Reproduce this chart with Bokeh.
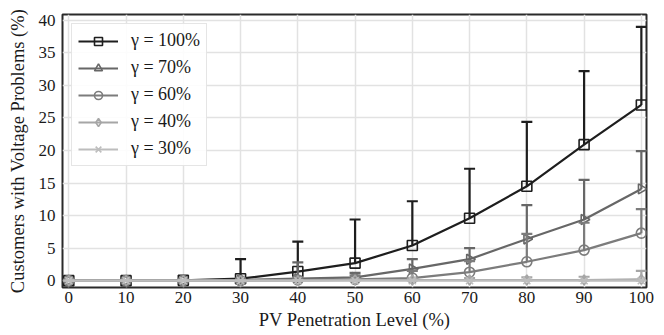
import math
from bokeh.plotting import figure
from bokeh.models import FixedTicker, Legend
from bokeh.embed import file_html
from bokeh.resources import INLINE

pv_levels = [0, 10, 20, 30, 40, 50, 60, 70, 80, 90, 100]

labels = ["γ = 100%", "γ = 70%", "γ = 60%", "γ = 40%", "γ = 30%"]

mean_g100 = [0.0, 0.0, 0.05, 0.3, 1.4, 2.7, 5.4, 9.6, 14.5, 20.9, 27.0]
upper_g100 = [0.0, 0.0, 0.1, 3.3, 6.0, 9.4, 12.2, 17.2, 24.4, 32.2, 39.0]

mean_g70 = [0.0, 0.0, 0.0, 0.1, 0.3, 0.5, 1.8, 3.3, 6.4, 9.4, 14.1]
upper_g70 = [0.0, 0.0, 0.0, 0.3, 2.8, 1.2, 3.3, 5.0, 11.6, 15.5, 19.9]

mean_g60 = [0.0, 0.0, 0.0, 0.0, 0.1, 0.2, 0.4, 1.3, 2.9, 4.7, 7.3]
upper_g60 = [0.0, 0.0, 0.0, 0.1, 0.5, 0.8, 1.5, 3.0, 7.2, 8.9, 11.0]

mean_g40 = [0.0, 0.0, 0.0, 0.0, 0.0, 0.1, 0.1, 0.1, 0.1, 0.1, 0.2]
upper_g40 = [0.0, 0.0, 0.0, 0.0, 0.1, 0.2, 0.3, 0.4, 0.5, 0.6, 1.5]

mean_g30 = [0.0, 0.0, 0.0, 0.0, 0.0, 0.0, 0.0, 0.0, 0.0, 0.0, 0.0]
upper_g30 = [0.0, 0.0, 0.0, 0.0, 0.0, 0.0, 0.0, 0.0, 0.0, 0.0, 0.0]

y_ticks = [0, 5, 10, 15, 20, 25, 30, 35, 40]

series = [
    (labels[0], mean_g100, upper_g100, "#1e1e1e", "square", 0.0),
    (labels[1], mean_g70, upper_g70, "#676767", "triangle", -math.pi / 2),
    (labels[2], mean_g60, upper_g60, "#7c7c7c", "circle", 0.0),
    (labels[3], mean_g40, upper_g40, "#a6a6a6", "diamond", 0.0),
    (labels[4], mean_g30, upper_g30, "#bdbdbd", "x", 0.0),
]

FONT = "'Liberation Serif', 'Times New Roman', serif"

p = figure(width=664, height=335, output_backend="svg", toolbar_location=None,
           x_range=(-1.1, 100.9), y_range=(-1.05, 40.9),
           min_border_left=62, min_border_right=18, min_border_top=14, min_border_bottom=48)
p.background_fill_color = "white"
p.border_fill_color = "white"
p.outline_line_color = "#2a2a2a"
p.outline_line_width = 2

p.xaxis.ticker = FixedTicker(ticks=pv_levels)
p.yaxis.ticker = FixedTicker(ticks=y_ticks)
for ax in (p.xaxis, p.yaxis):
    ax.major_tick_in = 0
    ax.major_tick_out = 0
    ax.minor_tick_in = 0
    ax.minor_tick_out = 0
    ax.axis_line_color = None
    ax.major_label_text_font = FONT
    ax.major_label_text_font_size = "17px"
    ax.major_label_text_color = "#1a1a1a"
    ax.axis_label_text_font = FONT
    ax.axis_label_text_font_size = "18.5px"
    ax.axis_label_text_font_style = "normal"
    ax.axis_label_text_color = "#1a1a1a"
p.xaxis.axis_label = "PV Penetration Level (%)"
p.yaxis.axis_label = "Customers with Voltage Problems (%)"
p.xaxis.major_label_standoff = 4
p.xaxis.axis_label_standoff = 4
p.yaxis.major_label_standoff = 7
p.yaxis.axis_label_standoff = 8

p.xgrid.grid_line_color = "#e2e2e2"
p.ygrid.grid_line_color = "#e2e2e2"
p.xgrid.grid_line_width = 1.5
p.ygrid.grid_line_width = 1.5

legend_items = []
for label, mean, upper, color, marker, ang in series:
    p.segment(x0=pv_levels, y0=mean, x1=pv_levels, y1=upper, line_color=color, line_width=2.2)
    p.scatter(x=pv_levels, y=upper, marker="dash", size=11, line_color=color, line_width=2.2)
    r_line = p.line(pv_levels, mean, line_color=color, line_width=2.2)
    r_mark = p.scatter(x=pv_levels, y=mean, marker=marker, size=10, angle=ang,
                       line_color=color, line_width=1.6, fill_color=None)
    legend_items.append((label, [r_line, r_mark]))

legend = Legend(items=legend_items, location="top_left")
legend.label_text_font = FONT
legend.label_text_font_size = "18px"
legend.label_text_color = "#1a1a1a"
legend.border_line_color = "#cccccc"
legend.border_line_width = 1.2
legend.background_fill_alpha = 0.9
legend.margin = 9
legend.padding = 6
legend.spacing = 6
legend.glyph_width = 40
legend.glyph_height = 20
legend.label_height = 20
legend.label_standoff = 13
p.add_layout(legend)

open("out.html", "w").write(file_html(p, INLINE))
